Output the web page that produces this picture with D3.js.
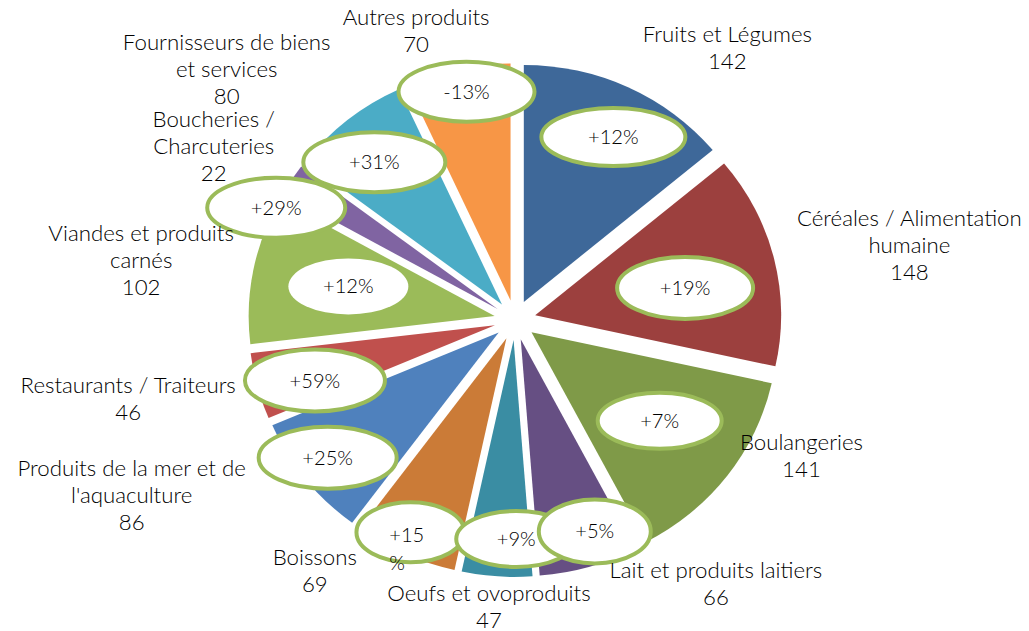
<!DOCTYPE html>
<html>
<head>
<meta charset="UTF-8">
<title></title>
<style>
body { margin: 0; background: #fff; }
text { font-family: Lato, "Open Sans", sans-serif; fill: #000; font-weight: 300; }
</style>
</head>
<body>
<script src="https://d3js.org/d3.v7.min.js" charset="utf-8"></script>
<script>
var categories = ["Fruits et Légumes", "Céréales / Alimentation\nhumaine", "Boulangeries",
  "Lait et produits laitiers", "Oeufs et ovoproduits", "Boissons",
  "Produits de la mer et de\nl'aquaculture", "Restaurants / Traiteurs",
  "Viandes et produits\ncarnés", "Boucheries /\nCharcuteries",
  "Fournisseurs de biens\net services", "Autres produits"];
var values = [142, 148, 141, 66, 47, 69, 86, 46, 102, 22, 80, 70];
var changes = ["+12%", "+19%", "+7%", "+5%", "+9%", "+15%", "+25%", "+59%", "+12%", "+29%", "+31%", "-13%"];
var colors = ["#3e6899", "#9c403e", "#7f9a48", "#664f83", "#3a8da3", "#cb7b37",
  "#4f81bd", "#c0504d", "#9bbb59", "#8064a2", "#4bacc6", "#f79646"];

var width = 1029, height = 631;
var cx = 515, cy = 320, radius = 237, explode = 20, sx = 1.038;
var textStretch = 1.06;

// callouts: [turn from bisector (deg), distance, rx, ry]
var callout = [[2.3, 206, 72, 29], [2.6, 167, 68, 31], [-1.5, 172, 62, 28], [-3.9, 225, 56, 32],
  [-4.2, 219, 60, 28], [1, 235, 54, 30], [0.9, 227, 69, 31], [-2.5, 202, 70, 31],
  [0.6, 164, 60, 28], [-7.1, 256, 69, 30], [-1.8, 208, 71, 30], [0.8, 233, 68, 30]];
// labels: [turn from bisector (deg), distance]
var labelPos = [[11.9, 340], [2.7, 387], [-11, 308], [-20.1, 328], [1.1, 289], [13.1, 317],
  [12.8, 409], [2.9, 381], [-1.9, 365], [-2.3, 338], [-9.1, 374], [-5.9, 304]];
var noBorder = [8];
var wrapped = [5];

var svg = d3.select("body").append("svg")
  .attr("width", width)
  .attr("height", height);

var pie = d3.pie().sort(null).value(function(d) { return d; });
var arc = d3.arc().innerRadius(0).outerRadius(radius);
var slices = pie(values);

function mid(d) { return (d.startAngle + d.endAngle) / 2; }
function polar(a, r) {
  return [cx + Math.sin(a) * r * sx, cy - Math.cos(a) * r];
}

var gPie = svg.append("g")
  .attr("transform", "translate(" + cx + "," + cy + ") scale(" + sx + ",1)");

gPie.selectAll("path")
  .data(slices)
  .enter()
  .append("path")
  .attr("fill", function(d, i) { return colors[i]; })
  .attr("transform", function(d) {
    var a = mid(d);
    return "translate(" + (Math.sin(a) * explode) + "," + (-Math.cos(a) * explode) + ")";
  })
  .attr("d", arc);

// callout ellipses, drawn last to first
var order = d3.range(slices.length).reverse();
var gCall = svg.append("g");
order.forEach(function(i) {
  var c = callout[i];
  var p = polar(mid(slices[i]) + c[0] * Math.PI / 180, c[1]);
  var g = gCall.append("g").attr("transform", "translate(" + p[0] + "," + p[1] + ")");
  g.append("ellipse")
    .attr("rx", c[2]).attr("ry", c[3])
    .attr("fill", "#fff")
    .attr("stroke", noBorder.indexOf(i) >= 0 ? "none" : "#9bbb59")
    .attr("stroke-width", 4);
  var t = changes[i];
  var txt = g.append("text")
    .attr("font-size", 19)
    .attr("transform", "scale(" + textStretch + ",1)");
  if (wrapped.indexOf(i) >= 0) {
    txt.attr("text-anchor", "start");
    txt.append("tspan").attr("x", -20).attr("y", 10).text(t.slice(0, -1));
    txt.append("tspan").attr("x", -20).attr("y", 38).text(t.slice(-1));
  } else {
    txt.attr("text-anchor", "middle").attr("y", 7).text(t);
  }
});

// category labels
var lineH = 27;
var gLab = svg.append("g");
slices.forEach(function(d, i) {
  var l = labelPos[i];
  var p = polar(mid(d) + l[0] * Math.PI / 180, l[1]);
  var lines = categories[i].split("\n").concat([String(values[i])]);
  var top = p[1] - (lines.length - 1) / 2 * lineH;
  var txt = gLab.append("text")
    .attr("font-size", 21)
    .attr("text-anchor", "middle")
    .attr("transform", "translate(" + p[0] + "," + top + ") scale(" + textStretch + ",1)");
  lines.forEach(function(s, k) {
    txt.append("tspan")
      .attr("x", 0)
      .attr("y", k * lineH + 7)
      .text(s);
  });
});
</script>
</body>
</html>
